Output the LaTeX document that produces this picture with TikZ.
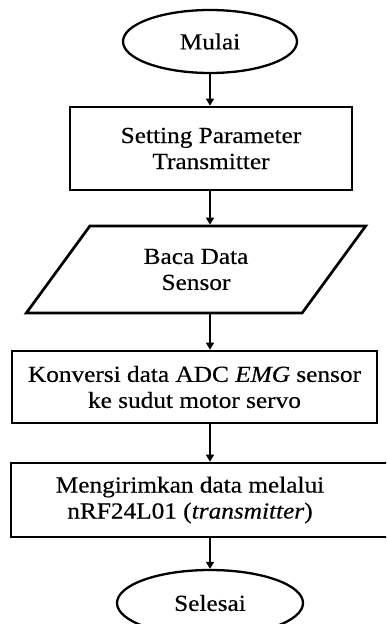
\documentclass[tikz,border=0pt]{standalone}
\usepackage{fontspec}
\setmainfont[FakeStretch=1.1, FakeBold=0.4]{Liberation Serif}
\usetikzlibrary{shapes.geometric,arrows.meta}

\tikzset{
  every node/.style={font=\fontsize{23}{26}\selectfont, align=center, inner sep=0pt},
  terminal/.style={draw, ellipse, line width=2.3pt},
  process/.style={draw, rectangle, line width=2.7pt},
  io/.style={draw, trapezium, trapezium left angle=52.8, trapezium right angle=127.2,
             trapezium stretches=true, line width=2.7pt},
  flow/.style={line width=1.5pt, -{Triangle[width=8pt,length=7pt]}}
}

\begin{document}
\begin{tikzpicture}[x=1pt, y=-1pt]
  \useasboundingbox (0,0) rectangle (386,624);
  \clip (0,0) rectangle (386,624);

  % start
  \node[terminal, minimum width=174, minimum height=63] (start) at (210,41.5) {Mulai};

  % transmitter setup
  \node[process, minimum width=282, minimum height=83] (setup) at (211,148.5)
    {Setting Parameter\\Transmitter};

  % read sensor data
  \node[io, minimum width=340, minimum height=87] (read) at (196,269.5)
    {Baca Data\\Sensor};

  % convert ADC value to servo angle
  \node[process, minimum width=365, minimum height=72] (convert) at (194.5,387)
    {Konversi data ADC \textit{EMG} sensor\\ke sudut motor servo};

  % send over radio
  \node[process, minimum width=384, minimum height=74] (send) at (203,500) {};
  \node (sendtext) at (190,500) {Mengirimkan data melalui\\nRF24L01 (\textit{transmitter})};

  % end
  \node[terminal, minimum width=186, minimum height=66] (stop) at (210,603) {Selesai};

  % connectors
  \draw[flow] (start.south) -- (start.south |- setup.north);
  \draw[flow] (setup.south -| start.south) -- (start.south |- read.north);
  \draw[flow] (start.south |- read.south) -- (start.south |- convert.north);
  \draw[flow] (start.south |- convert.south) -- (start.south |- send.north);
  \draw[flow] (start.south |- send.south) -- (stop.north);
\end{tikzpicture}
\end{document}
